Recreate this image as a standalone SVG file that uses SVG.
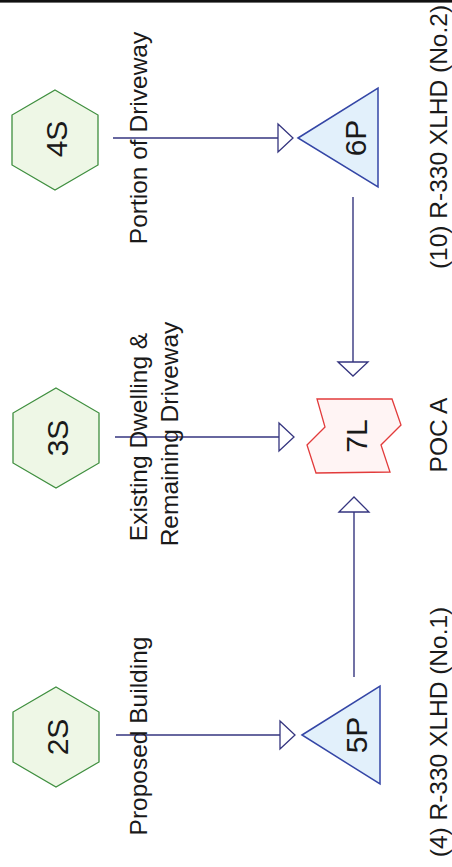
<svg xmlns="http://www.w3.org/2000/svg" width="452" height="867" viewBox="0 0 452 867">
<style>
.hex{fill:#eef7e6;stroke:#3f8f3f;stroke-width:1.3}
.pond{fill:#e2f0fb;stroke:#3446a6;stroke-width:1.5}
.link{fill:#fff4f4;stroke:#e23b3b;stroke-width:1.3}
.id{font-family:"Liberation Sans",Arial,sans-serif;font-size:30px;fill:#1a1a1a;text-anchor:middle}
.lbl{font-family:"Liberation Sans",Arial,sans-serif;font-size:24.5px;fill:#1a1a1a;text-anchor:middle}
.con line{stroke:#35357f;stroke-width:1.4}
.con polygon{fill:#ffffff;stroke:#35357f;stroke-width:1.3}
</style>
<rect x="0" y="0" width="452" height="2.6" fill="#111"/>
<g id="connectors" class="con">
<line x1="113" y1="138" x2="278" y2="138"/>
<polygon points="278,124 293,138 278,152"/>
<line x1="115" y1="437" x2="279" y2="437"/>
<polygon points="279,423 294,437 279,451"/>
<line x1="116" y1="735" x2="280" y2="735"/>
<polygon points="280,721 295,735 280,749"/>
<line x1="353" y1="197" x2="353" y2="362"/>
<polygon points="338,362 353,376 368,362"/>
<line x1="354" y1="677" x2="354" y2="512"/>
<polygon points="339,512 354,497 369,512"/>
</g>
<g id="node-4S">
<polygon class="hex" points="55,90 98,115 98,165 55,190 12,165 12,115"/>
<text class="id" transform="translate(67,139) rotate(-90)">4S</text>
</g>
<g id="node-3S">
<polygon class="hex" points="56,388 99,413 99,463 56,488 13,463 13,413"/>
<text class="id" transform="translate(68,438) rotate(-90)">3S</text>
</g>
<g id="node-2S">
<polygon class="hex" points="56,687 99,712 99,762 56,787 13,762 13,712"/>
<text class="id" transform="translate(68,737) rotate(-90)">2S</text>
</g>
<g id="node-6P">
<polygon class="pond" points="298,138 378,88 378,187"/>
<text class="id" transform="translate(366,138) rotate(-90)">6P</text>
</g>
<g id="node-5P">
<polygon class="pond" points="302,735 380,686 380,784"/>
<text class="id" transform="translate(367,735) rotate(-90)">5P</text>
</g>
<g id="node-7L">
<polygon class="link" points="317,399 392,399 401,425 381,445 390,472 316,473 307,445 325,427"/>
<text class="id" transform="translate(367,436) rotate(-90)">7L</text>
</g>
<g id="labels">
<text class="lbl" transform="translate(147,138) rotate(-90)">Portion of Driveway</text>
<text class="lbl" transform="translate(147,437) rotate(-90)">Existing Dwelling &amp;</text>
<text class="lbl" transform="translate(178,434) rotate(-90)">Remaining Driveway</text>
<text class="lbl" transform="translate(147,736) rotate(-90)">Proposed Building</text>
<text class="lbl" transform="translate(447,137) rotate(-90)">(10) R-330 XLHD (No.2)</text>
<text class="lbl" transform="translate(447,435) rotate(-90)">POC A</text>
<text class="lbl" transform="translate(447,732) rotate(-90)">(4) R-330 XLHD (No.1)</text>
</g>
</svg>
